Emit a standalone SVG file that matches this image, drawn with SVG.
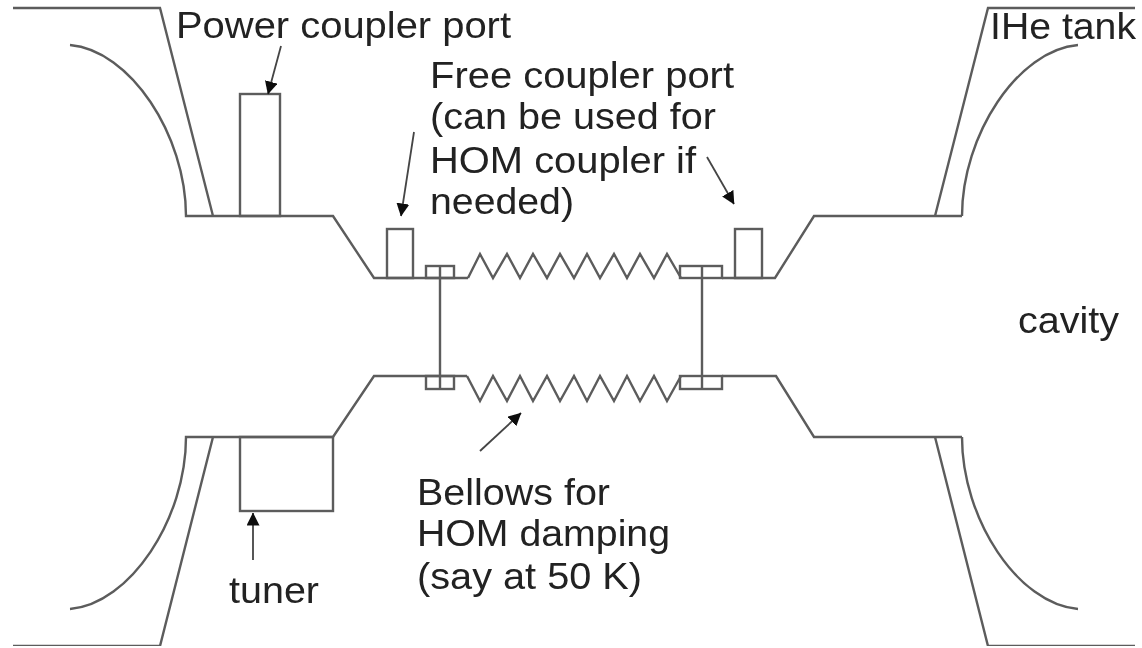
<svg xmlns="http://www.w3.org/2000/svg" width="1142" height="648" viewBox="0 0 1142 648">
<style>
.s{fill:none;stroke:#5c5c5c;stroke-width:2.4;stroke-linejoin:miter}
.a{fill:none;stroke:#444;stroke-width:1.8;marker-end:url(#ah)}
text{font-family:"Liberation Sans",Arial,sans-serif;font-size:37px;fill:#222}
</style>
<defs>
<marker id="ah" viewBox="0 0 13 13" refX="12.5" refY="6.5" markerWidth="13" markerHeight="13" markerUnits="userSpaceOnUse" orient="auto"><path d="M0 0L13 6.5L0 13Z" fill="#111"/></marker>
<filter id="b" x="0" y="0" width="100%" height="100%"><feGaussianBlur stdDeviation="0.7"/></filter>
</defs>
<rect width="1142" height="648" fill="#fff"/>
<g filter="url(#b)">
<g id="cavity-top">
<path class="s" d="M13 8H160L213 216M70 45C130 50 186 135 186 216H333L374 278H468"/>
<path class="s" d="M468 278L480 254L493 278L507 254L520 278L533 254L547 278L560 254L574 278L587 254L600 278L614 254L627 278L640 254L654 278L667 254L681 278"/>
<path class="s" d="M722 278H775L814 216H962M935 216L988 8H1135M962 216C962 135 1018 50 1078 45"/>
</g>
<g id="cavity-bottom">
<path class="s" d="M13 646H160L213 437M70 609C130 604 186 519 186 437H333L374 376H467"/>
<path class="s" d="M467 376L480 401L493 376L507 401L520 376L533 401L547 376L560 401L574 376L587 401L600 376L614 401L627 376L640 401L654 376L667 401L681 376"/>
<path class="s" d="M722 376H776L814 437H962M935 437L988 646H1135M962 437C962 519 1018 604 1078 609"/>
</g>
<g id="power-port"><rect class="s" x="240" y="94" width="40" height="122"/></g>
<g id="tuner"><rect class="s" x="240" y="437" width="93" height="74"/><text x="229" y="603" textLength="90" lengthAdjust="spacingAndGlyphs">tuner</text></g>
<g id="free-port-left"><rect class="s" x="387" y="229" width="26" height="49"/></g>
<g id="free-port-right"><rect class="s" x="735" y="229" width="27" height="49"/></g>
<g id="flange-left">
<rect class="s" x="426" y="266" width="28" height="12"/>
<rect class="s" x="426" y="376" width="28" height="13"/>
<path class="s" d="M440 266V389"/>
</g>
<g id="flange-right">
<rect class="s" x="680" y="266" width="42" height="12"/>
<rect class="s" x="680" y="376" width="42" height="13"/>
<path class="s" d="M702 266V389"/>
</g>
<g id="connectors">
<path class="a" d="M281 46L268 94"/>
<path class="a" d="M414 132L401 216"/>
<path class="a" d="M707 157L734 204"/>
<path class="a" d="M480 451L521 413"/>
<path class="a" d="M253 560V513"/>
</g>
<g id="labels">
<text x="176" y="38" textLength="335" lengthAdjust="spacingAndGlyphs">Power coupler port</text>
<text x="990" y="39" textLength="146" lengthAdjust="spacingAndGlyphs">IHe tank</text>
<text x="430" y="88" textLength="304" lengthAdjust="spacingAndGlyphs">Free coupler port</text>
<text x="430" y="129" textLength="286" lengthAdjust="spacingAndGlyphs">(can be used for</text>
<text x="430" y="173" textLength="266" lengthAdjust="spacingAndGlyphs">HOM coupler if</text>
<text x="430" y="214" textLength="144" lengthAdjust="spacingAndGlyphs">needed)</text>
<text x="1018" y="333" textLength="101" lengthAdjust="spacingAndGlyphs">cavity</text>
<text x="417" y="505" textLength="193" lengthAdjust="spacingAndGlyphs">Bellows for</text>
<text x="417" y="546" textLength="253" lengthAdjust="spacingAndGlyphs">HOM damping</text>
<text x="417" y="589" textLength="225" lengthAdjust="spacingAndGlyphs">(say at 50 K)</text>
</g>
</g>
</svg>
